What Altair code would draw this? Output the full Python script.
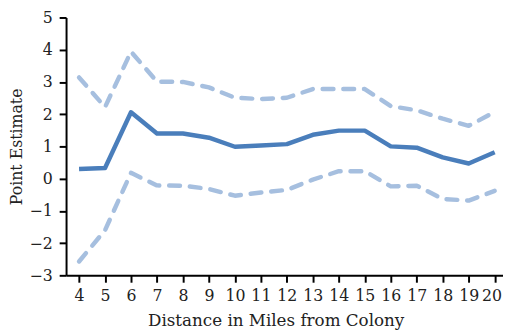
import altair as alt
import pandas as pd

distance = list(range(4, 21))
estimate = [0.30, 0.33, 2.06, 1.40, 1.40, 1.27, 0.99, 1.03, 1.07, 1.36, 1.49, 1.49, 1.00, 0.96, 0.66, 0.47, 0.82]
upper = [3.14, 2.22, 3.94, 3.01, 3.00, 2.83, 2.51, 2.47, 2.51, 2.78, 2.78, 2.78, 2.25, 2.12, 1.86, 1.64, 2.07]
lower = [-2.57, -1.60, 0.18, -0.21, -0.22, -0.32, -0.53, -0.43, -0.35, -0.03, 0.23, 0.23, -0.24, -0.22, -0.63, -0.68, -0.38]
y_ticks = [-3, -2, -1, 0, 1, 2, 3, 4, 5]

n = len(distance)
df = pd.DataFrame({
    "distance": distance * 3,
    "value": estimate + upper + lower,
    "series": ["estimate"] * n + ["upper"] * n + ["lower"] * n,
})

FONT = "DejaVu Serif"

xscale = alt.Scale(domain=[3.5, 20.32], nice=False, zero=False)
yscale = alt.Scale(domain=[-3, 5], nice=False)


def xaxis():
    return alt.Axis(values=distance, format="d", title="Distance in Miles from Colony",
                    grid=False, domainColor="black", domainWidth=2, tickColor="black",
                    tickWidth=2, tickSize=7, labelPadding=6,
                    titleX=213, titleY=51, titleBaseline="alphabetic",
                    labelAlign={"condition": {"test": "datum.value == 20", "value": "right"}, "value": "center"},
                    labelOffset={"condition": {"test": "datum.value == 20", "value": 7}, "value": 0},
                    labelOverlap=False, labelFlush=False, labelFontSize=16,
                    labelFont=FONT, titleFont=FONT, titleFontSize=17)


def yaxis():
    return alt.Axis(values=y_ticks, format="d", title="Point Estimate",
                    grid=False, domainColor="black", domainWidth=2, tickColor="black",
                    tickWidth=2, tickSize=7, labelPadding=7, titlePadding=5,
                    labelOverlap=False, labelFlush=False, labelFontSize=16,
                    labelFont=FONT, titleFont=FONT, titleFontSize=16)


base = alt.Chart(df).encode(
    x=alt.X("distance:Q", scale=xscale, axis=xaxis()),
    y=alt.Y("value:Q", scale=yscale, axis=yaxis()),
)

band = base.transform_filter(alt.datum.series != "estimate").mark_line(
    color="#a6bfdf", strokeWidth=4.5, strokeDash=[11, 10], strokeCap="round", strokeJoin="round"
).encode(detail="series:N")

mid = base.transform_filter(alt.datum.series == "estimate").mark_line(
    color="#4a7ebb", strokeWidth=4.5, strokeJoin="round"
)

chart = alt.layer(band, mid).properties(
    width=444, height=262,
    autosize=alt.AutoSizeParams(type="none"),
    padding={"left": 59, "top": 7, "right": 0, "bottom": 58},
).configure_view(stroke=None).configure_axis(
    titleFontWeight="normal", labelColor="#222", titleColor="#222",
)

chart.save("out.html", embed_options={"renderer": "svg", "actions": False})
